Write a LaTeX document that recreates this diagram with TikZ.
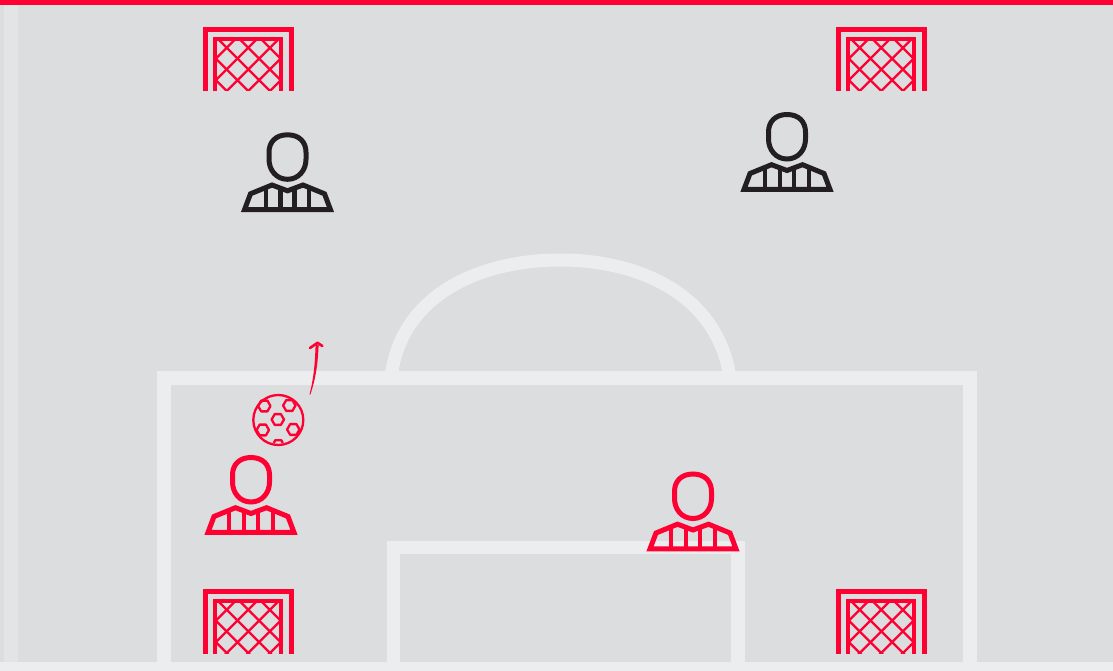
\documentclass[tikz,border=0pt]{standalone}
\definecolor{pitch}{HTML}{DCDDDF}
\definecolor{chalk}{HTML}{ECEDEF}
\definecolor{sideline}{HTML}{E3E4E6}
\definecolor{teamred}{HTML}{FF0033}
\definecolor{teamblack}{HTML}{231F20}
\tikzset{
  x=1pt,y=-1pt,
  chalkline/.style={draw=chalk,line width=13.5pt,line join=miter},
  goalpic/.pic={
    \draw[teamred,line width=4.7pt,line join=miter] (2.35,64.5)--(2.35,2.35)--(88.15,2.35)--(88.15,64.5);
    \draw[teamred,line width=4pt,line join=miter] (12,64.5)--(12,12)--(78,12)--(78,64.5);
    \begin{scope}
      \clip (12,12) rectangle (78,64);
      \foreach \k in {-2,...,6}{
        \draw[teamred,line width=2.3pt] ({87.7+21.6*(\k-3)},0) -- ++(-70,70);
        \draw[teamred,line width=2.3pt] ({-40.3+21.6*\k},0) -- ++(70,70);
      }
    \end{scope}
  },
  playerfig/.pic={
    \begin{scope}[draw=#1,line width=5pt,line join=miter]
      \draw (0,2.5) .. controls (-12,2.5) and (-18.5,10) .. (-18.5,20)
        -- (-18.5,27) .. controls (-18.5,38) and (-11,47) .. (0,47)
        .. controls (11,47) and (18.5,38) .. (18.5,27)
        -- (18.5,20) .. controls (18.5,10) and (12,2.5) .. (0,2.5) -- cycle;
      \draw (-37,61.5) -- (-15.5,52.7) -- (0,58.5) -- (15.5,52.7) -- (37,61.5) -- (43,77.4) -- (-43,77.4) -- cycle;
      \draw[line width=4.2pt] (-21.8,56) -- (-21.8,77.6);
      \draw[line width=4.2pt] (-7,55) -- (-7,77.6);
      \draw[line width=4.2pt] (7,55) -- (7,77.6);
      \draw[line width=4.2pt] (21.8,56) -- (21.8,77.6);
    \end{scope}
  },
  hexa/.style={draw=teamred,line width=2.3pt,line join=round},
}
\begin{document}
\begin{tikzpicture}
\useasboundingbox (0,0) rectangle (1113,671);
\fill[pitch] (0,0) rectangle (1113,671);
% pitch markings
\fill[sideline] (4,5) rectangle (17.5,671);
\fill[chalk] (0,662) rectangle (1113,671);
\draw[chalkline] (164,671) -- (164,378) -- (970,378) -- (970,671);
\draw[chalkline] (393.5,671) -- (393.5,547.5) -- (738,547.5) -- (738,671);
\draw[chalkline,line width=13pt] (391,378) .. controls (400,295) and (480,260) .. (560,260)
   .. controls (640,260) and (718,295) .. (730,378);
\fill[teamred] (0,0) rectangle (1113,5);
% goals
\path (203,27) pic {goalpic};
\path (836,27) pic {goalpic};
\path (203,589) pic {goalpic};
\path (836,589) pic {goalpic};
% players
\path (287.5,132.3) pic {playerfig=teamblack};
\path (787,112) pic {playerfig=teamblack};
\path (251,455) pic {playerfig=teamred};
\path (693,471.5) pic {playerfig=teamred};
% ball
\begin{scope}[shift={(278.3,420)}]
  \draw[teamred,line width=2.3pt] (0,0) circle (25);
  \foreach \cx/\cy/\r/\a in {-0.5/-0.5/6.2/0, -14/-14/6.2/0, 11/-14.5/6.2/0, -15.5/10/6.2/0, 15/9.5/6.2/0}{
    \draw[hexa] (\cx,\cy) ++(\a:\r) -- ++(\a+120:\r) -- ++(\a+180:\r) -- ++(\a+240:\r) -- ++(\a+300:\r) -- ++(\a+360:\r) -- cycle;
  }
  \draw[hexa] (-4.5,23) -- (-3,20.2) -- (3,20.2) -- (4.5,23);
\end{scope}
% movement arrow, tapered towards the ball
\fill[teamred] (309.5,394.5) .. controls (314,377) and (315,362) .. (315.6,345)
   -- (318.6,345) .. controls (318,362) and (316,378) .. (310.3,394.7) -- cycle;
\draw[teamred,line width=2.6pt,line cap=round,line join=round] (310,348) -- (317.5,342.8) -- (322.3,346);
\end{tikzpicture}
\end{document}
